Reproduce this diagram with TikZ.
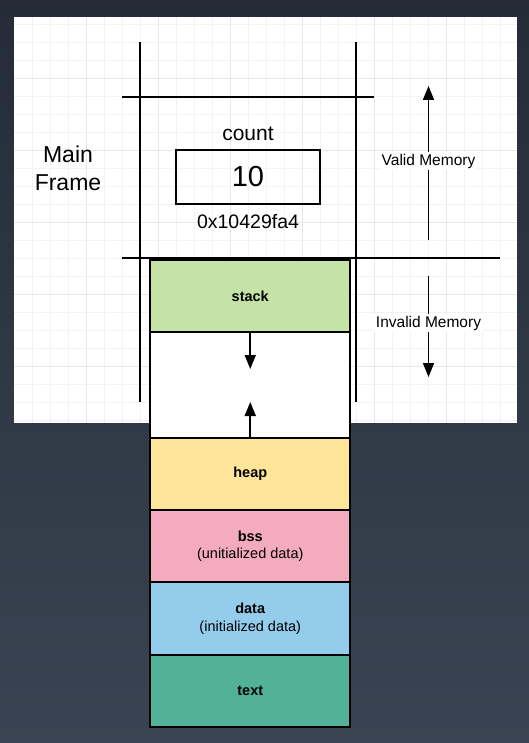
\documentclass[tikz,border=0pt]{standalone}
\usepackage{fontspec}
\setmainfont{Liberation Sans}
\usetikzlibrary{arrows.meta,positioning}

\definecolor{bgtop}{RGB}{37,44,56}
\definecolor{bgbot}{RGB}{57,68,82}
\definecolor{gridminor}{RGB}{243,243,243}
\definecolor{gridmajor}{RGB}{231,231,231}
\definecolor{stackgreen}{RGB}{197,227,166}
\definecolor{heapyellow}{RGB}{255,229,153}
\definecolor{bsspink}{RGB}{244,170,191}
\definecolor{datablue}{RGB}{148,204,236}
\definecolor{textteal}{RGB}{82,177,153}

\begin{document}
\begin{tikzpicture}[x=1pt,y=-1pt,
    frameline/.style={draw=black,line width=1.7pt},
    memarrow/.style={draw=black,line width=1.7pt,-{Triangle[length=14pt,width=11pt]}},
    segment/.style={draw=black,line width=1.7pt,minimum width=200pt,inner sep=0pt,
      outer sep=0pt,align=center,font=\fontsize{14.5}{17.5}\selectfont}]
   % background and grid paper
   \fill[top color=bgtop,bottom color=bgbot] (0,0) rectangle (529,743);
   \fill[white] (14,17) rectangle (517,423);
   \foreach \gx in {32,50,...,500} \draw[gridminor,line width=0.8pt] (\gx,17) -- (\gx,423);
   \foreach \gy in {24,42,...,420} \draw[gridminor,line width=0.8pt] (14,\gy) -- (517,\gy);
   \foreach \gx in {86,158,...,446} \draw[gridmajor,line width=0.8pt] (\gx,17) -- (\gx,423);
   \foreach \gy in {78,150,...,366} \draw[gridmajor,line width=0.8pt] (14,\gy) -- (517,\gy);

   % frame borders
   \coordinate (ltop) at (140,42);
   \coordinate (lbot) at (140,402);
   \coordinate (rtop) at (356,42);
   \coordinate (rbot) at (356,402);
   \coordinate (hl1) at (122,97);
   \coordinate (hr1) at (374,97);
   \coordinate (hl2) at (122,258);
   \coordinate (hr2) at (500,258);
   \draw[frameline] (ltop) -- (lbot);
   \draw[frameline] (rtop) -- (rbot);
   \draw[frameline] (hl1) -- (hr1);
   \draw[frameline] (hl2) -- (hr2);

   % main frame contents
   \node[align=center,font=\fontsize{23}{28}\selectfont] (mainlbl) at (68,168) {Main\\Frame};
   \node[font=\fontsize{21}{25}\selectfont] (countlbl) at (248,134) {count};
   \node[draw=black,line width=1.7pt,minimum width=144pt,minimum height=54pt,
     font=\fontsize{29}{34}\selectfont] (countbox) at (248,177) {10};
   \node[font=\fontsize{19.5}{23}\selectfont] (addrlbl) at (248,222) {0x10429fa4};

   % valid / invalid memory
   \coordinate (vbot) at (428.5,240);
   \coordinate (vtop) at (428.5,86);
   \coordinate (itop) at (428.5,276);
   \coordinate (ibot) at (428.5,377);
   \draw[memarrow] (vbot) -- (vtop);
   \draw[memarrow] (itop) -- (ibot);
   \node[fill=white,inner sep=1.5pt,font=\fontsize{15.5}{18}\selectfont] (validlbl) at (428.5,161) {Valid Memory};
   \node[fill=white,inner sep=1.5pt,font=\fontsize{15.5}{18}\selectfont] (invalidlbl) at (428.5,323) {Invalid Memory};

   % memory segments
   \node[segment,fill=stackgreen,minimum height=72pt] (stack) at (250.25,296) {\textbf{stack}};
   \node[segment,fill=white,minimum height=106pt,below=0pt of stack] (free) {};
   \node[segment,fill=heapyellow,minimum height=72pt,below=0pt of free] (heap) {\textbf{heap}};
   \node[segment,fill=bsspink,minimum height=72pt,below=0pt of heap] (bss) {\textbf{bss}\\(unitialized data)};
   \node[segment,fill=datablue,minimum height=73pt,below=0pt of bss] (data) {\textbf{data}\\(initialized data)};
   \node[segment,fill=textteal,minimum height=72pt,below=0pt of data] (text) {\textbf{text}};

   \coordinate (stackend) at (250.25,369);
   \coordinate (heapend) at (250.25,402);
   \draw[memarrow] (stack.south) -- (stackend);
   \draw[memarrow] (heap.north) -- (heapend);
\end{tikzpicture}
\end{document}
